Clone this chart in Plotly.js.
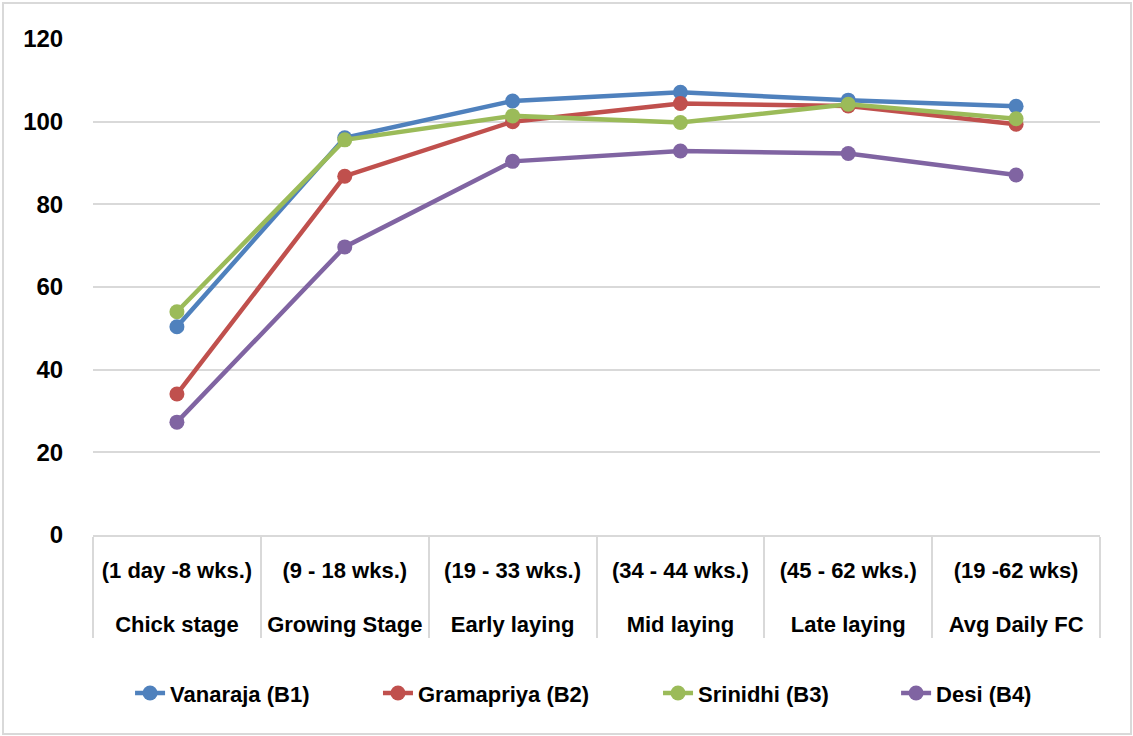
<!DOCTYPE html>
<html>
<head>
<meta charset="utf-8">
<script src="https://cdn.plot.ly/plotly-3.0.1.min.js"></script>
<style>
html,body{margin:0;padding:0;background:#fff;}
#wrap{position:relative;width:1133px;height:736px;}
#chart{position:absolute;left:0;top:0;width:1133px;height:736px;}
#frame{position:absolute;left:2px;top:2px;width:1126px;height:729px;border:2px solid #d9d9d9;pointer-events:none;}
</style>
</head>
<body>
<div id="wrap"><div id="chart"></div><div id="frame"></div></div>
<script>
const stages = ["Chick stage", "Growing Stage", "Early laying", "Mid laying", "Late laying", "Avg Daily FC"];
const periods = ["(1 day -8 wks.)", "(9 - 18 wks.)", "(19 - 33 wks.)", "(34 - 44 wks.)", "(45 - 62 wks.)", "(19 -62 wks)"];
const seriesNames = ["Vanaraja (B1)", "Gramapriya (B2)", "Srinidhi (B3)", "Desi (B4)"];
const vanaraja = [50.4, 96.1, 105.0, 107.1, 105.2, 103.7];
const gramapriya = [34.1, 86.8, 100.0, 104.4, 103.8, 99.4];
const srinidhi = [54.0, 95.6, 101.4, 99.8, 104.2, 100.7];
const desi = [27.3, 69.7, 90.4, 92.9, 92.3, 87.1];
const yTicks = [0, 20, 40, 60, 80, 100, 120];

const colors = ["#4F81BD", "#C0504D", "#9BBB59", "#8064A2"];
const allValues = [vanaraja, gramapriya, srinidhi, desi];
const legendIds = ["legend", "legend2", "legend3", "legend4"];
const legendX = [0.0368, 0.2830, 0.5611, 0.7975];
const FONT = "'Liberation Sans Narrow', 'Arial Narrow', 'Liberation Sans', Arial, sans-serif";

const traces = allValues.map((vals, i) => ({
  type: "scatter",
  mode: "lines+markers",
  name: seriesNames[i],
  legend: legendIds[i],
  x: [stages, periods.map(p => p + "<br><span style='font-size:60px'> </span>")],
  y: vals,
  line: {color: colors[i], width: 4.5},
  marker: {color: colors[i], size: 15},
  cliponaxis: false
}));

const layout = {
  width: 1133,
  height: 736,
  margin: {l: 93, r: 33, t: 39, b: 201, autoexpand: false},
  paper_bgcolor: "#ffffff",
  plot_bgcolor: "#ffffff",
  font: {family: FONT, size: 22, color: "#000000", weight: "bold"},
  showlegend: true,
  xaxis: {
    type: "multicategory",
    showgrid: false,
    showline: true,
    linecolor: "#d9d9d9",
    linewidth: 2,
    showdividers: true,
    dividercolor: "#d9d9d9",
    dividerwidth: 2,
    ticks: "",
    ticklabelstandoff: 15,
    tickfont: {family: FONT, size: 22, color: "#000", weight: "bold"},
    range: [-0.5, 5.5],
    zeroline: false
  },
  yaxis: {
    range: [0, 120],
    tickvals: yTicks,
    ticktext: yTicks.map(String),
    showgrid: true,
    gridcolor: "#d9d9d9",
    gridwidth: 2,
    zeroline: false,
    showline: false,
    ticks: "outside",
    ticklen: 24,
    tickcolor: "rgba(0,0,0,0)",
    tickfont: {family: FONT, size: 24, color: "#000", weight: "bold"}
  }
};

legendIds.forEach((id, i) => {
  layout[id] = {
    orientation: "h",
    x: legendX[i], xanchor: "left",
    y: -0.319, yanchor: "middle",
    font: {family: FONT, size: 22, color: "#000", weight: "bold"},
    bgcolor: "rgba(0,0,0,0)"
  };
});

Plotly.newPlot("chart", traces, layout, {displayModeBar: false, staticPlot: true});
</script>
</body>
</html>
